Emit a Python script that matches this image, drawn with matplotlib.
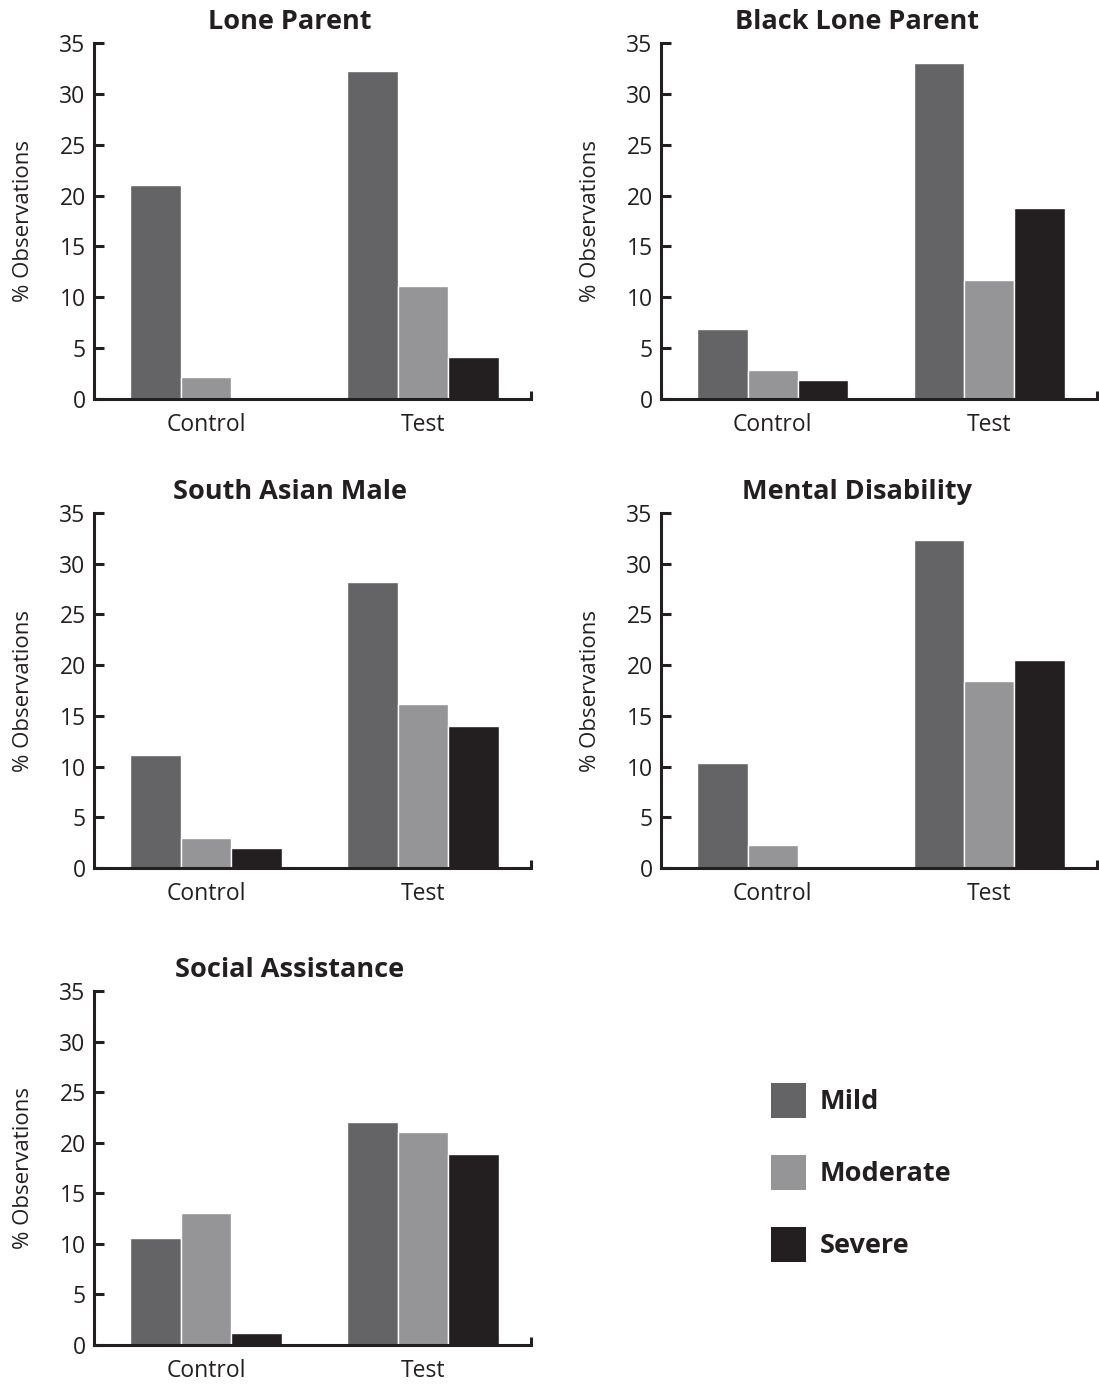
import matplotlib
matplotlib.use("Agg")
import matplotlib.pyplot as plt
from matplotlib.patches import Patch
import numpy as np

plt.rcParams["font.family"] = ["Open Sans", "DejaVu Sans"]

# ── Data ───────────────────────────────────────────────────────────────────────
TITLES   = ["Lone Parent", "Black Lone Parent", "South Asian Male",
            "Mental Disability", "Social Assistance"]
GROUPS   = ["Control", "Test"]
SEVERITY = ["Mild", "Moderate", "Severe"]

# (control, test) per panel
MILD     = [(21.0, 32.2), (6.9, 33.0), (11.1, 28.2), (10.4, 32.3), (10.6, 22.0)]
MODERATE = [(2.2, 11.1), (2.9, 11.7), (3.0, 16.2), (2.3, 18.4), (13.1, 21.1)]
SEVERE   = [(0.0, 4.1), (1.9, 18.8), (2.0, 14.0), (0.0, 20.5), (1.2, 18.9)]

YTICKS = [0, 5, 10, 15, 20, 25, 30, 35]

COLORS = ["#646466", "#959598", "#231f20"]
INK    = "#231f20"

# ── Layout (pixels in a 1099x1384 canvas) ──────────────────────────────────────
W, H = 1099, 1384
COLS = [(94, 531), (661, 1097)]
ROWS = [(43, 399), (513, 868), (991, 1345)]

fig = plt.figure(figsize=(W / 100, H / 100), dpi=100)

BAR_W = 0.2327
x = np.arange(len(GROUPS))

for i, title in enumerate(TITLES):
    r, c = divmod(i, 2)
    x0, x1 = COLS[c]
    y0, y1 = ROWS[r]
    ax = fig.add_axes([x0 / W, 1 - y1 / H, (x1 - x0) / W, (y1 - y0) / H])

    for k, series in enumerate([MILD, MODERATE, SEVERE]):
        ax.bar(x + (k - 1) * BAR_W, series[i], width=BAR_W, color=COLORS[k],
               edgecolor="white", linewidth=1.0, zorder=2)

    ax.set_xlim(-0.516, 1.498)
    ax.set_ylim(0, 35)
    ax.set_yticks(YTICKS)
    ax.set_xticks(x)
    ax.set_xticklabels(GROUPS)
    ax.set_xticks([1.498], minor=True)

    for side in ["top", "right"]:
        ax.spines[side].set_visible(False)
    for side in ["left", "bottom"]:
        ax.spines[side].set_color(INK)
        ax.spines[side].set_linewidth(2.2)
        ax.spines[side].set_zorder(3)

    ax.tick_params(axis="y", direction="in", length=7, width=2.2, color=INK,
                   labelsize=16.5, labelcolor=INK, pad=6)
    ax.tick_params(axis="x", which="major", length=0, labelsize=16.5,
                   labelcolor=INK, pad=10)
    ax.tick_params(axis="x", which="minor", direction="in", length=6,
                   width=2.2, color=INK)

    ax.set_ylabel("% Observations", fontsize=16, color=INK)
    ax.yaxis.set_label_coords(-0.137, 0.5)

    ax.text(0.4485, 1 + 14 / (y1 - y0), title, transform=ax.transAxes,
            ha="center", va="baseline", fontsize=19.5, fontweight="bold", color=INK)

handles = [Patch(facecolor=COLORS[k], edgecolor="none") for k in range(3)]
fig.legend(handles, SEVERITY, loc="upper left",
           bbox_to_anchor=(771 / W, 1 - 1083 / H), frameon=False,
           borderpad=0, borderaxespad=0, handlelength=1.29, handleheight=1.61,
           handletextpad=0.5, labelspacing=1.36,
           prop={"size": 19.5, "weight": "bold"}, labelcolor=INK)

fig.savefig("out.png", dpi=100, facecolor="white")
